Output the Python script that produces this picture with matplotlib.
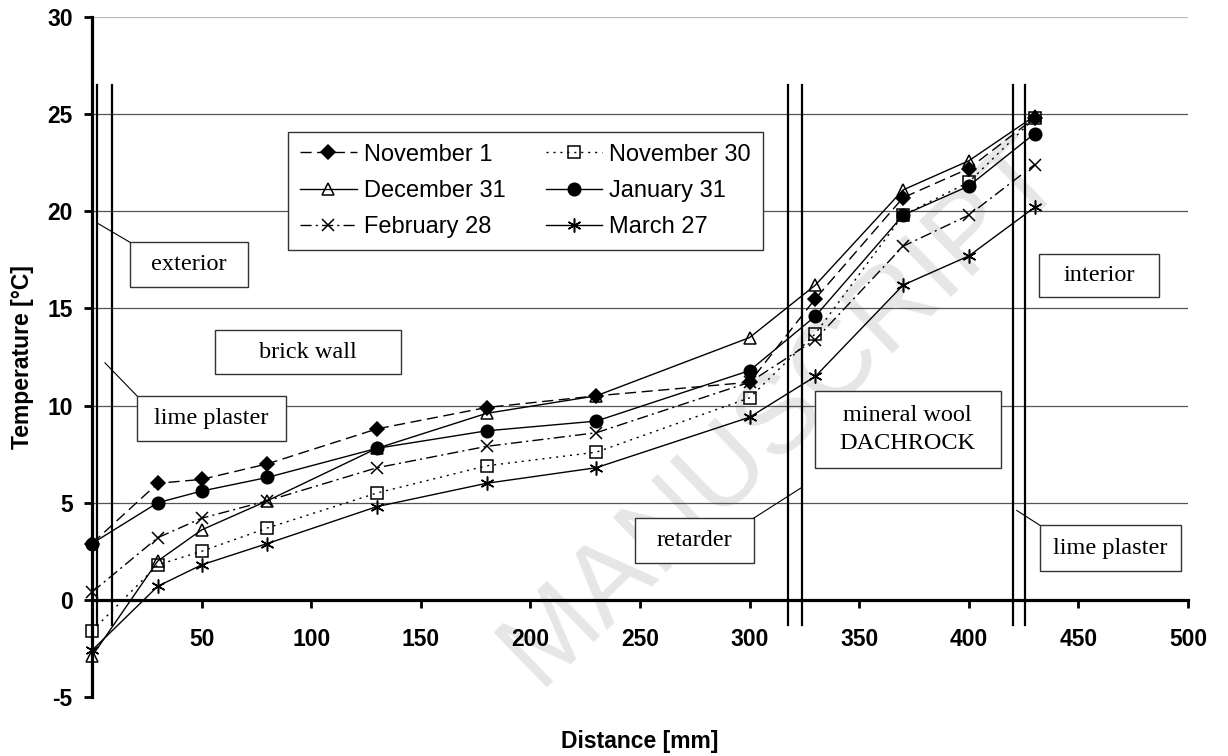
import matplotlib
matplotlib.use("Agg")
import matplotlib.pyplot as plt
from matplotlib.patches import Rectangle

# distance through the wall [mm]
distance = [0, 30, 50, 80, 130, 180, 230, 300, 330, 370, 400, 430]

nov1 = [2.9, 6.0, 6.2, 7.0, 8.8, 9.9, 10.5, 11.2, 15.5, 20.7, 22.2, 24.8]
nov30 = [-1.6, 1.8, 2.5, 3.7, 5.5, 6.9, 7.6, 10.4, 13.7, 19.8, 21.5, 24.8]
dec31 = [-2.9, 2.0, 3.6, 5.1, 7.8, 9.6, 10.5, 13.5, 16.2, 21.1, 22.6, 24.9]
jan31 = [2.9, 5.0, 5.6, 6.3, 7.8, 8.7, 9.2, 11.8, 14.6, 19.8, 21.3, 24.0]
feb28 = [0.4, 3.2, 4.2, 5.1, 6.8, 7.9, 8.6, 11.2, 13.4, 18.2, 19.8, 22.4]
mar27 = [-2.6, 0.7, 1.8, 2.9, 4.8, 6.0, 6.8, 9.4, 11.5, 16.2, 17.7, 20.2]

labels = ["November 1", "November 30", "December 31",
          "January 31", "February 28", "March 27"]

xticks = list(range(50, 501, 50))
yticks = list(range(-5, 31, 5))

# layer boundaries [mm]
boundaries = [2.5, 9, 317.5, 324, 420, 425.5]

# text boxes: (text, left, right, bottom, top) in data units
boxes = [
    ("exterior", 17.4, 71.2, 16.1, 18.4),
    ("brick wall", 56.2, 141.1, 11.6, 13.9),
    ("lime plaster", 20.5, 88.6, 8.2, 10.5),
    ("retarder", 247.5, 301.8, 1.9, 4.2),
    ("mineral wool\nDACHROCK", 329.7, 414.6, 6.8, 10.75),
    ("interior", 432.0, 486.8, 15.6, 17.8),
    ("lime plaster", 432.4, 496.8, 1.47, 3.84),
]
# leader lines ((x0, y0), (x1, y1))
leaders = [
    ((2.3, 19.4), (17.4, 18.4)),
    ((5.9, 12.2), (20.5, 10.5)),
    ((301.8, 4.2), (323.3, 5.75)),
    ((421.9, 4.6), (432.4, 3.84)),
]

plt.rcParams['font.family'] = ['Liberation Sans', 'DejaVu Sans']
plt.rcParams['axes.unicode_minus'] = False

fig = plt.figure(figsize=(12.28, 7.56), dpi=100)
ax = fig.add_axes([92/1228, 1 - 697/756, 1096/1228, 680/756])

# watermark
ax.text(0.63, 0.42, "MANUSCRIPT", transform=ax.transAxes, rotation=44,
        fontsize=80, color="#e6e6e6", ha="center", va="center", zorder=0)

for yv in yticks[2:]:
    ax.axhline(yv, color="#555555" if yv < 30 else "#bbbbbb", lw=0.9, zorder=1)

for xb in boundaries:
    ax.plot([xb, xb], [-1.3, 26.5], color="black", lw=1.6, zorder=2)

styles = [
    dict(ls=(0, (8, 4)), marker="D", ms=7, mfc="black"),
    dict(ls=(0, (1.5, 3.5)), marker="s", ms=8, mfc="none"),
    dict(ls="-", marker="^", ms=8, mfc="none"),
    dict(ls="-", marker="o", ms=9, mfc="black"),
    dict(ls=(0, (8, 3, 1.5, 3)), marker="x", ms=8, mfc="none"),
    dict(ls="-", marker=(6, 2, 0), ms=10, mfc="none"),
]
series = [nov1, nov30, dec31, jan31, feb28, mar27]
handles = []
for vals, lab, st in zip(series, labels, styles):
    h, = ax.plot(distance, vals, color="black", lw=1.0, mec="black", mew=1.1,
                 label=lab, clip_on=False, zorder=4, **st)
    handles.append(h)

for txt, x0, x1, y0, y1 in boxes:
    ax.add_patch(Rectangle((x0, y0), x1 - x0, y1 - y0, facecolor="white",
                           edgecolor="#333333", lw=1.0, zorder=5))
    ax.text((x0 + x1) / 2, (y0 + y1) / 2, txt, ha="center", va="center",
            family="Liberation Serif", fontsize=17.5, linespacing=1.4, zorder=6)

for (xa, ya), (xb, yb) in leaders:
    ax.plot([xa, xb], [ya, yb], color="black", lw=0.8, zorder=5)

ax.set_xlim(0, 500)
ax.set_ylim(-5, 30)
ax.spines['top'].set_visible(False)
ax.spines['right'].set_visible(False)
ax.spines['bottom'].set_position(('data', 0))
ax.spines['bottom'].set_linewidth(2.3)
ax.spines['left'].set_linewidth(2.3)
ax.spines['bottom'].set_zorder(3)

ax.set_xticks(xticks)
ax.set_yticks(yticks)
ax.tick_params(axis='both', direction='out', length=6, width=2,
               labelsize=16.5)
ax.tick_params(axis='x', pad=14)
ax.tick_params(axis='y', pad=8)
for t in ax.get_xticklabels() + ax.get_yticklabels():
    t.set_fontweight('bold')

ax.set_xlabel("Distance [mm]", fontsize=16.5, fontweight='bold')
ax.xaxis.set_label_coords(0.5, -0.048)
ax.set_ylabel("Temperature [°C]", fontsize=16.5, fontweight='bold', labelpad=9)

# row-wise legend order, two columns
order = [0, 2, 4, 1, 3, 5]
leg = ax.legend([handles[i] for i in order], [labels[i] for i in order],
                loc="upper left", bbox_to_anchor=(0.179, 0.831), ncol=2,
                fontsize=17, frameon=True, fancybox=False, edgecolor="#333333",
                handlelength=2.4, handletextpad=0.3, columnspacing=1.7,
                labelspacing=0.6, borderpad=0.5, borderaxespad=0, framealpha=1)
leg.get_frame().set_linewidth(1.0)
leg.set_zorder(7)

fig.savefig("out.png", dpi=100)
